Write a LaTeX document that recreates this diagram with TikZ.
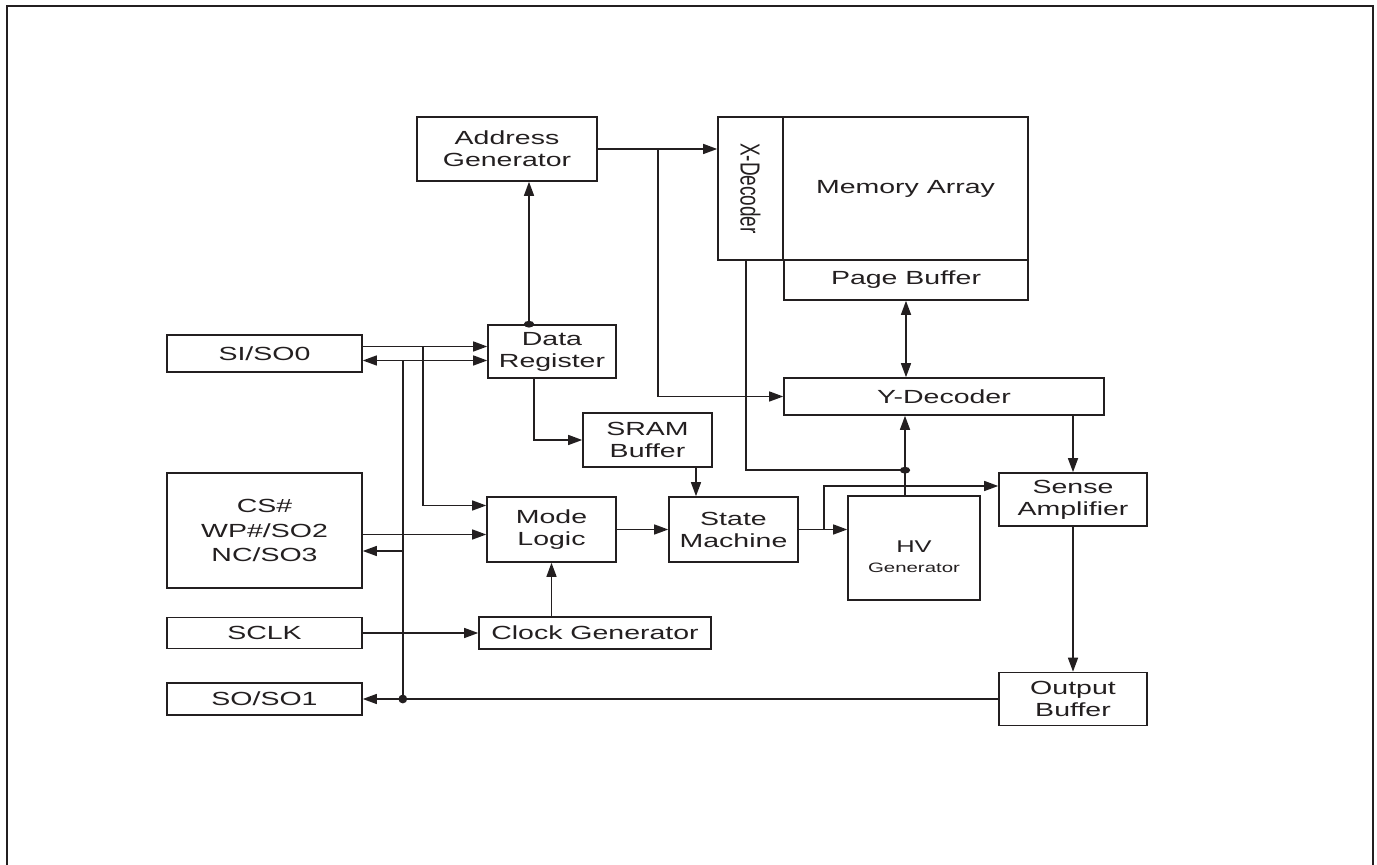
\documentclass[tikz,border=0pt]{standalone}
\usepackage{fontspec}
\setmainfont{Liberation Sans}[FakeStretch=1.5]
\newfontfamily\plainsans{Liberation Sans}
\usetikzlibrary{arrows.meta}
\definecolor{ink}{HTML}{231F20}

\begin{document}
\begin{tikzpicture}[x=0.5pt,y=-0.5pt,color=ink,
  blk/.style={draw,line width=0.8pt,inner sep=0pt,align=center,font=\fontsize{9.5}{11}\selectfont},
  sz/.style 2 args={minimum width=#1,minimum height=#2},
  wire/.style={line width=0.7pt},
  arr/.style={wire,-{Triangle[length=7pt,width=5pt]}},
  dbl/.style={wire,{Triangle[length=7pt,width=5pt]}-{Triangle[length=7pt,width=5pt]}}]
	\useasboundingbox (0,0) rectangle (1377,865);
	\draw[line width=1.2pt] (7,870) -- (7,6) -- (1373,6) -- (1373,870);

	\node[blk,sz={97.5pt}{18.5pt}] (sio0) at (264.5,353.5) {SI/SO0};
	\node[blk,sz={97.5pt}{57.5pt},font=\fontsize{9.5}{12.25}\selectfont] (cs) at (264.5,530.5) {CS\#\\WP\#/SO2\\NC/SO3};
	\node[blk,sz={97.5pt}{15.5pt}] (sclk) at (264.5,633) {SCLK};
	\node[blk,sz={97.5pt}{16pt}] (so1) at (264.5,699) {SO/SO1};
	\node[blk,sz={90pt}{32pt}] (addr) at (507,149) {Address\\Generator};
	\node[blk,sz={64pt}{26.5pt}] (dreg) at (552,351.5) {Data\\Register};
	\node[blk,sz={64.5pt}{27pt}] (sram) at (647.5,440) {SRAM\\Buffer};
	\node[blk,sz={64.5pt}{32.5pt}] (mode) at (551.5,529.5) {Mode\\Logic};
	\node[blk,sz={64.5pt}{32.5pt}] (state) at (733.5,529.5) {State\\Machine};
	\node[blk,sz={116pt}{16pt}] (clk) at (595,633) {Clock Generator};
	\node[blk,sz={32.5pt}{71.5pt}] (xdec) at (750.5,188.5) {\rotatebox{-90}{\plainsans\scalebox{1}[1.45]{X-Decoder}}};
	\node[blk,sz={122.5pt}{71.5pt}] (mem) at (905.5,188.5) {Memory Array};
	\node[blk,sz={122pt}{20pt}] (page) at (906,280) {Page Buffer};
	\node[blk,sz={160pt}{18.5pt}] (ydec) at (944,396.5) {Y-Decoder};
	\node[blk,sz={66pt}{52pt}] (hv) at (914,548) {\raisebox{-5pt}[\height][\depth]{\begin{tabular}{@{}c@{}}\fontsize{8.5}{10}\selectfont HV\\[-1pt]\fontsize{6.8}{8}\selectfont Generator\end{tabular}}};
	\node[blk,sz={74pt}{26.5pt}] (sense) at (1073,499.5) {Sense\\Amplifier};
	\node[blk,sz={74pt}{26.5pt}] (outb) at (1073,699) {Output\\Buffer};

	\draw[arr] ([yshift=3.5pt]sio0.east) -- ([yshift=3.5pt]sio0.east -| dreg.west);
	\draw[dbl] ([yshift=-3.5pt]sio0.east) -- ([yshift=-3.5pt]sio0.east -| dreg.west);
	\draw[arr] ([yshift=3.5pt,xshift=30pt]sio0.east) |- ([yshift=12pt]mode.west);
	\draw[wire] ([yshift=-3.5pt,xshift=20pt]sio0.east) -- ([xshift=20pt]so1.east) coordinate (jso);
	\fill (jso) circle[radius=2.2pt];
	\draw[arr] (outb.west) -- (so1.east);
	\draw[arr] ([yshift=-2pt]cs.east) -- ([yshift=-2pt]cs.east -| mode.west);
	\draw[arr] ([yshift=-10.25pt,xshift=20pt]cs.east) -- ([yshift=-10.25pt]cs.east);
	\draw[arr] (sclk.east) -- (clk.west);
	\draw[arr] (clk.north -| mode.south) -- (mode.south);
	\draw[arr] ([xshift=-9pt]dreg.south) |- (sram.west);
	\draw[arr] ([xshift=24.25pt]sram.south) -- ([xshift=24.25pt]sram.south |- state.north);
	\draw[arr] (mode.east) -- (state.west);
	\draw[arr] (state.east) -- (state.east -| hv.west);
	\draw[arr] ([xshift=12.5pt]state.east) |- ([yshift=6.75pt]sense.west);
	\draw[arr] ([xshift=-11.5pt]dreg.north) coordinate (dtop) -- (dtop |- addr.south);
	\fill (dtop) ellipse[x radius=2.6pt,y radius=1.7pt];
	\draw[arr] (addr.east) -- (addr.east -| xdec.west);
	\draw[arr] ([xshift=30pt]addr.east) |- (ydec.west);
	\draw[arr] ([xshift=-4.5pt]hv.north) -- ([xshift=-4.5pt]hv.north |- ydec.south);
	\draw[wire] ([xshift=-2.25pt]xdec.south) |- ([xshift=-4.5pt,yshift=12.5pt]hv.north) coordinate (jhv);
	\fill (jhv) ellipse[x radius=2.6pt,y radius=1.7pt];
	\draw[dbl] (page.south) -- (page.south |- ydec.north);
	\draw[arr] (sense.north |- ydec.south) -- (sense.north);
	\draw[arr] (sense.south) -- (outb.north);
\end{tikzpicture}
\end{document}
